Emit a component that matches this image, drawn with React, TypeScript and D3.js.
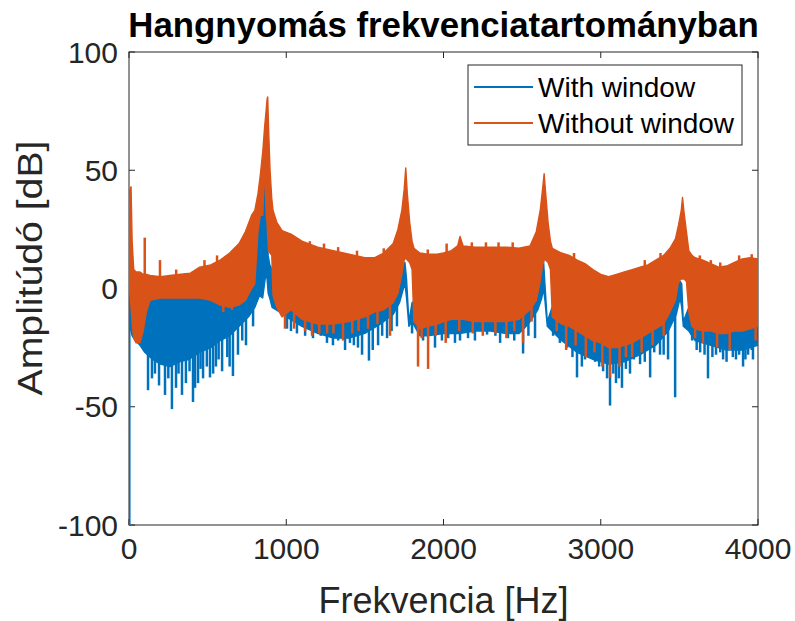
import React from "react";
import * as d3 from "d3";

// Axis ticks
const FREQ_TICKS = [0, 1000, 2000, 3000, 4000];
const DB_TICKS = [-100, -50, 0, 50, 100];

// Spectrum without window: band envelope (Hz, dB high, dB low)
const withoutFreq = [0, 6, 13, 20, 30, 45, 70, 90, 110, 134, 200, 260, 330, 390, 450, 520, 580, 640, 700, 740, 780, 800, 820, 835, 851, 862, 873, 878, 882, 888, 897, 908, 916, 940, 973, 1030, 1100, 1200, 1300, 1400, 1500, 1560, 1620, 1680, 1710, 1735, 1750, 1760, 1770, 1785, 1800, 1812, 1850, 1900, 1960, 2000, 2050, 2090, 2105, 2125, 2200, 2300, 2400, 2480, 2550, 2590, 2615, 2630, 2640, 2650, 2665, 2680, 2692, 2750, 2800, 2850, 2900, 2950, 3000, 3050, 3100, 3150, 3200, 3250, 3300, 3350, 3400, 3440, 3475, 3495, 3512, 3520, 3530, 3545, 3560, 3580, 3600, 3650, 3700, 3750, 3800, 3850, 3900, 3950, 4000];
const withoutHigh = [38, 42, 43, 20, 8, 7, 7, 6, 6, 5.5, 5, 5.5, 6, 6.5, 9, 10, 12, 15, 19, 24, 31, 33, 40, 48, 58, 68, 76, 80, 81, 67, 50, 38, 33, 28, 24.5, 23, 20, 17.5, 16, 14.5, 13, 13, 15, 19, 25, 33, 42, 51, 40, 28, 20, 17, 15, 14.5, 14.5, 15, 16, 18, 22, 18, 17.5, 17.5, 17.5, 17, 18, 24, 33, 42, 48.5, 40, 28, 20, 17, 15, 14, 12, 10.5, 8, 6, 5, 6, 7, 8, 9, 10, 12, 14, 17, 21, 27, 33, 38.5, 32, 24, 16, 14, 13, 12, 10.5, 9, 9.5, 11, 12.5, 13, 12.5];
const withoutLow = [2, -2, -8, -15, -21, -23, -23, -18, -10, -5, -4, -4, -4, -4, -4, -5, -7, -8, -7, -5, 0, 2, 24, 31, 31, 52, 31, 28, 22, 16, 15, 14, -3, -8, -12, -9, -13, -15, -15, -14, -12, -10, -9, -6, -2, 6, 12, 13, 12, 11, 8, -14, -17, -16, -15, -14, -13, -13, -13, -13, -14, -14, -14, -13, -9, -5, 3, 10, 12, 12, 11, 8, -12, -15, -16, -18, -20, -22, -23, -25, -25, -24, -23, -21, -19, -17, -15, -10, -5, 3, 4, 4, 4, 3, -10, -16, -17, -18, -18, -19, -19, -18, -18, -17, -16];
// Isolated bins sticking out of the band
const withoutSpikeFreq = [100, 197, 300, 480, 560, 600, 655, 992, 1050, 1120, 1150, 1164, 1210, 1240, 1260, 1300, 1330, 1361, 1420, 1450, 1460, 1520, 1580, 1620, 1660, 1838, 1861, 1900, 1902, 1950, 2014, 2020, 2100, 2180, 2186, 2250, 2270, 2330, 2350, 2400, 2440, 2450, 2506, 2560, 2720, 2780, 2830, 2840, 2905, 2960, 3010, 3059, 3120, 3160, 3200, 3260, 3280, 3330, 3380, 3400, 3600, 3630, 3650, 3700, 3740, 3760, 3820, 3880, 3960, 3985];
const withoutSpikeDb = [21.5, 12, 8, 12, 14, -10, -9, -17, -17, -18, 20, -20, -19, 19, -19, -19, 17.5, -22, -19, 16, -18, -17, -15, 17, -20, -33, -21, 16.5, -34, -20, -23, 19, -18, 19.5, -19, -20, 19.5, -19, 19.5, -21, 19.5, -18, -23, -14, -18, -26, 15, -24, -29, -27, -33, -37.6, -33, -29, -29, -27, 12, -24, 15, -20, -21, 14, -23, 12, -25, 11, -26, 14, 14.5, -22];

// Spectrum with window: band envelope (Hz, dB high, dB low)
const withFreq = [6, 20, 40, 70, 100, 150, 200, 260, 320, 380, 450, 520, 580, 640, 700, 760, 800, 830, 850, 862, 870, 878, 885, 895, 910, 960, 1000, 1050, 1100, 1200, 1300, 1400, 1500, 1600, 1680, 1720, 1745, 1755, 1765, 1780, 1800, 1850, 1900, 2000, 2100, 2200, 2300, 2400, 2480, 2540, 2600, 2625, 2636, 2645, 2660, 2690, 2750, 2850, 2950, 3050, 3150, 3250, 3350, 3430, 3480, 3505, 3515, 3525, 3560, 3600, 3700, 3800, 3900, 4000];
const withHigh = [-2, -2, -2, -3, -4, -4, -3, -3, -2, -1, 0, 1, 2, 4, 7, 12, 18, 28, 38, 50.5, 44, 26, 14, 10, 8, 6, 5, 4, 3, 2, 1, 1, 1, 2, 4, 6, 10, 11, 4, -14, -6, -4, -3, -3, -2, -2, -2, -3, -3, 0, 3, 8, 12, 2, -14, -8, -7, -9, -10, -10, -9, -8, -6, -3, 0, 3, 2, -14, -8, -8, -9, -9, -8, -7];
const withLow = [-16, -20, -22, -24, -27, -30, -32, -33, -31, -30, -27, -25, -22, -20, -16, -12, -8, -3, -4, 2, 6, 4, -2, -4, -8, -10, -12, -14, -16, -19, -21, -21, -19, -15, -11, -6, 0, 2, -4, -16, -14, -20, -20, -19, -19, -18, -18, -19, -19, -15, -9, -4, 0, -5, -16, -18, -22, -27, -30, -32, -31, -28, -24, -18, -11, -4, -8, -16, -18, -22, -24, -26, -26, -24];
const withSpikeFreq = [2, 121, 146, 165, 191, 229, 250, 273, 299, 315, 337, 362, 385, 407, 420, 439, 455, 471, 495, 515, 535, 553, 570, 592, 625, 640, 661, 693, 720, 744, 789, 1005, 1030, 1068, 1120, 1140, 1170, 1220, 1259, 1297, 1330, 1374, 1405, 1430, 1456, 1482, 1526, 1550, 1584, 1610, 1641, 1670, 1704, 1800, 1870, 1946, 1990, 2030, 2073, 2105, 2156, 2200, 2277, 2330, 2360, 2410, 2450, 2506, 2540, 2582, 2697, 2740, 2786, 2820, 2849, 2880, 2900, 2930, 2964, 2990, 3015, 3040, 3059, 3080, 3097, 3115, 3135, 3160, 3186, 3210, 3250, 3280, 3314, 3340, 3377, 3400, 3428, 3473, 3581, 3610, 3632, 3660, 3682, 3710, 3733, 3760, 3778, 3800, 3822, 3840, 3860, 3880, 3905, 3920, 3937, 3960, 3968, 3994];
const withSpikeDb = [-100, -43, -38, -36, -41, -45, -38, -51, -42, -36, -45, -40, -35, -48, -42, -40, -34, -38, -33, -37.6, -36, -33, -30, -35, -29, -33, -37, -28, -22, -24, -16, -17, -18, -19, -20, -17, -21, -20, -23, -24, -22, -26, -23, -24, -25, -28, -30.5, -26, -24, -20, -21, -18, -16, -19, -22, -25, -22, -21, -23, -22, -21, -22, -19.5, -20, -23, -21, -22, -27.5, -20, -21, -20, -23, -25, -29, -37.6, -33, -30, -28, -31, -33, -35, -38, -49.5, -36, -40, -38, -42, -34, -36, -30, -32, -31, -37.6, -27, -28, -28, -30, -46, -22, -26, -27, -28, -38, -29, -28, -27, -30, -31, -26, -29, -30, -28, -33, -30, -28, -26, -30, -24];

const WITH_COLOR = "#0072BD";
const WITHOUT_COLOR = "#D95319";
const INK = "#262626";
const FONT = "'Liberation Sans', Arial, Helvetica, sans-serif";

const LEFT = 129;
const RIGHT = 758;
const TOP = 52;
const BOTTOM = 525;
const TICK = 6;

const x = d3.scaleLinear().domain([0, 4000]).range([LEFT, RIGHT]);
const y = d3.scaleLinear().domain([-100, 100]).range([BOTTOM, TOP]);

type SeriesProps = {
  freq: number[];
  high: number[];
  low: number[];
  spikeFreq: number[];
  spikeDb: number[];
  color: string;
};

function Series({ freq, high, low, spikeFreq, spikeDb, color }: SeriesProps) {
  const rows = freq.map((f, i) => ({ f, hi: high[i], lo: low[i] }));
  const band = d3
    .area<{ f: number; hi: number; lo: number }>()
    .x((d) => x(d.f))
    .y0((d) => y(d.lo))
    .y1((d) => y(d.hi))
    .curve(d3.curveLinear);
  const hiAt = d3.scaleLinear().domain(freq).range(high).clamp(true);
  const loAt = d3.scaleLinear().domain(freq).range(low).clamp(true);
  const mid = (f: number) => (hiAt(f) + loAt(f)) / 2;
  return (
    <g>
      <path d={band(rows) ?? ""} fill={color} stroke={color} strokeWidth={1.4} strokeLinejoin="round" />
      {spikeFreq.map((f, i) => {
        const v = spikeDb[i];
        const start =
          v < loAt(f)
            ? Math.max(loAt(f) + 1, Math.min(mid(f), loAt(f) + 6))
            : Math.min(hiAt(f) - 1, mid(f));
        return (
          <line
            key={i}
            x1={x(f)}
            x2={x(f)}
            y1={y(f < 5 ? 0 : start)}
            y2={y(v)}
            stroke={color}
            strokeWidth={2.5}
          />
        );
      })}
    </g>
  );
}

export default function App() {
  return (
    <svg
      width={795}
      height={621}
      viewBox="0 0 795 621"
      style={{ position: "absolute", left: 0, top: 0, background: "#fff" }}
      fontFamily={FONT}
    >
      <defs>
        <clipPath id="plot-area">
          <rect x={LEFT} y={TOP} width={RIGHT - LEFT} height={BOTTOM - TOP} />
        </clipPath>
      </defs>
      <rect x={0} y={0} width={795} height={621} fill="#fff" />

      {/* axes box and ticks */}
      <rect x={LEFT} y={TOP} width={RIGHT - LEFT} height={BOTTOM - TOP} fill="none" stroke={INK} strokeWidth={1} />
      {FREQ_TICKS.map((t) => (
        <g key={`xt${t}`} stroke={INK} strokeWidth={1}>
          <line x1={x(t)} x2={x(t)} y1={BOTTOM} y2={BOTTOM - TICK} />
          <line x1={x(t)} x2={x(t)} y1={TOP} y2={TOP + TICK} />
        </g>
      ))}
      {DB_TICKS.map((t) => (
        <g key={`yt${t}`} stroke={INK} strokeWidth={1}>
          <line x1={LEFT} x2={LEFT + TICK} y1={y(t)} y2={y(t)} />
          <line x1={RIGHT} x2={RIGHT - TICK} y1={y(t)} y2={y(t)} />
        </g>
      ))}

      {/* spectra */}
      <g clipPath="url(#plot-area)">
        <Series
          freq={withFreq}
          high={withHigh}
          low={withLow}
          spikeFreq={withSpikeFreq}
          spikeDb={withSpikeDb}
          color={WITH_COLOR}
        />
        <Series
          freq={withoutFreq}
          high={withoutHigh}
          low={withoutLow}
          spikeFreq={withoutSpikeFreq}
          spikeDb={withoutSpikeDb}
          color={WITHOUT_COLOR}
        />
      </g>

      {/* tick labels */}
      {FREQ_TICKS.map((t) => (
        <text key={`xl${t}`} x={x(t)} y={559} textAnchor="middle" fontSize={30} fill={INK}>
          {t}
        </text>
      ))}
      {DB_TICKS.map((t) => (
        <text key={`yl${t}`} x={118} y={y(t) + 10.7} textAnchor="end" fontSize={30} fill={INK}>
          {t}
        </text>
      ))}

      {/* labels and title */}
      <text x={(LEFT + RIGHT) / 2} y={613} textAnchor="middle" fontSize={36} fill={INK}>
        Frekvencia [Hz]
      </text>
      <text
        transform="translate(42,268) rotate(-90) scale(1.12,1)"
        textAnchor="middle"
        fontSize={35}
        fill={INK}
      >
        Amplitúdó [dB]
      </text>
      <text x={(LEFT + RIGHT) / 2} y={37} textAnchor="middle" fontSize={34.8} fontWeight="bold" fill="#000">
        Hangnyomás frekvenciatartományban
      </text>

      {/* legend */}
      <g>
        <rect x={468} y={65} width={274} height={80} fill="#fff" stroke={INK} strokeWidth={1} />
        <line x1={474} x2={533} y1={87} y2={87} stroke={WITH_COLOR} strokeWidth={2} />
        <line x1={474} x2={533} y1={123} y2={123} stroke={WITHOUT_COLOR} strokeWidth={2} />
        <text x={538} y={97} fontSize={28} fill="#000">
          With window
        </text>
        <text x={538} y={133} fontSize={28} fill="#000">
          Without window
        </text>
      </g>
    </svg>
  );
}
